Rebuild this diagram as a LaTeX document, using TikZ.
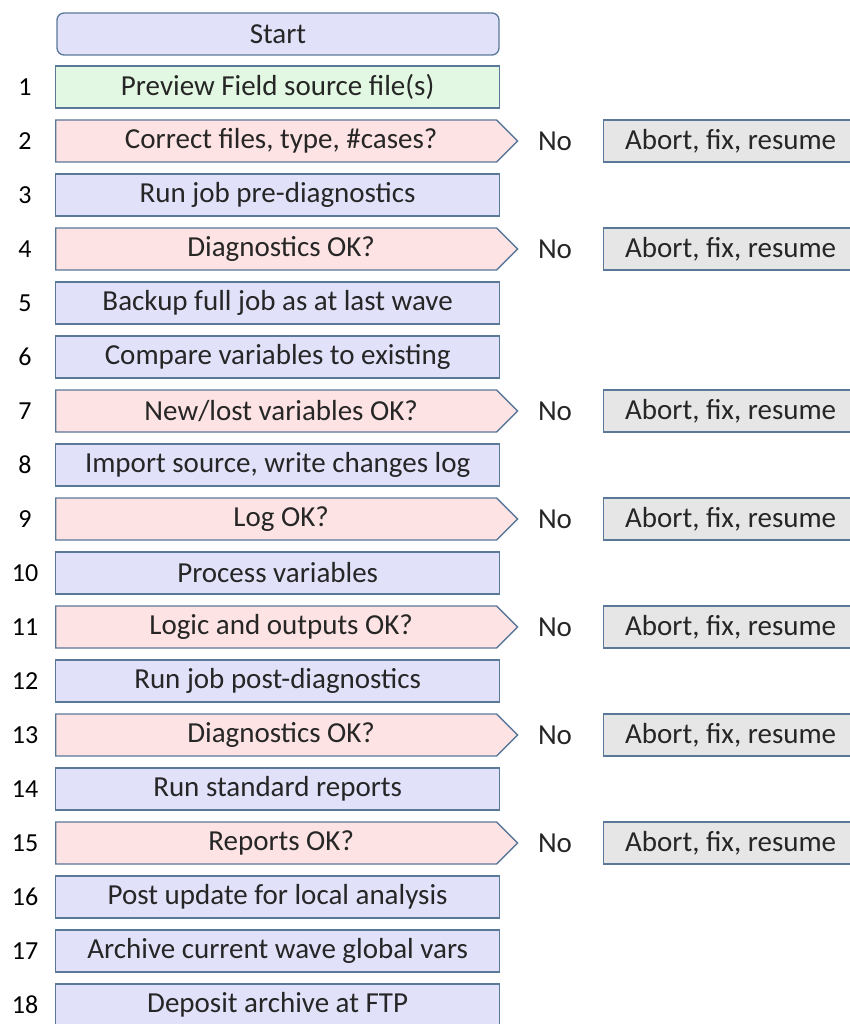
\documentclass[tikz,border=0pt]{standalone}
\usepackage{fontspec}
\setmainfont{Carlito}
\usetikzlibrary{shapes.symbols}
\definecolor{edgeblue}{HTML}{5A7898}
\definecolor{stepblue}{HTML}{E1E1FA}
\definecolor{stepgreen}{HTML}{E2F8E2}
\definecolor{askpink}{HTML}{FDE3E3}
\definecolor{abortgrey}{HTML}{E6E6E6}
\tikzset{
  txt/.style={font=\fontsize{29}{32}\selectfont, text=black!85},
  box/.style={txt, draw=edgeblue, line width=1.3pt, minimum height=42pt, inner sep=0pt},
  stepbox/.style={box, rectangle, fill=stepblue, minimum width=444pt},
  greenbox/.style={stepbox, fill=stepgreen},
  askbox/.style={box, signal, signal to=east, signal pointer angle=90, fill=askpink, minimum width=462pt,
    execute at begin node=\hspace*{10pt}},
  abortbox/.style={box, rectangle, fill=abortgrey, minimum width=254pt},
  num/.style={txt, font=\fontsize{26}{30}\selectfont, text=black}
}

\begin{document}
\begin{tikzpicture}[x=1pt,y=-1pt]
    \useasboundingbox (0,0) rectangle (849,1024);

    \node[stepbox, rounded corners=7pt, minimum width=442pt] (start) at (278,34) {Start};

    % step column
    \foreach \i/\kind/\label in {1/greenbox/{Preview Field source file(s)},
        2/askbox/{Correct files, type, \#cases?},
        3/stepbox/{Run job pre-diagnostics},
        4/askbox/{Diagnostics OK?},
        5/stepbox/{Backup full job as at last wave},
        6/stepbox/{Compare variables to existing},
        7/askbox/{New/lost variables OK?},
        8/stepbox/{Import source, write changes log},
        9/askbox/{Log OK?},
        10/stepbox/{Process variables},
        11/askbox/{Logic and outputs OK?},
        12/stepbox/{Run job post-diagnostics},
        13/askbox/{Diagnostics OK?},
        14/stepbox/{Run standard reports},
        15/askbox/{Reports OK?},
        16/stepbox/{Post update for local analysis},
        17/stepbox/{Archive current wave global vars},
        18/stepbox/{Deposit archive at FTP}}
    {
      \node[\kind, anchor=west] (s\i) at (55,{87+(\i-1)*54}) {\label};
      \node[num] (n\i) at (25,{87+(\i-1)*54}) {\i};
    }

    % no branches
    \foreach \i in {2,4,7,9,11,13,15}
    {
      \node[txt] (no\i) at (555,{87+(\i-1)*54}) {No};
      \node[abortbox, anchor=west] (abort\i) at (603,{87+(\i-1)*54}) {Abort, fix, resume};
    }
\end{tikzpicture}
\end{document}
